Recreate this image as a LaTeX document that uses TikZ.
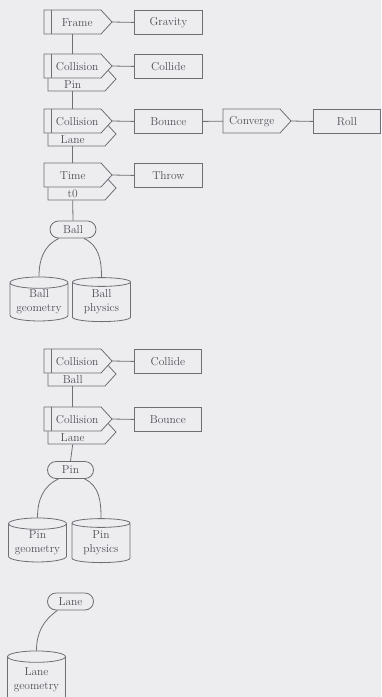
\documentclass[tikz,border=0pt]{standalone}
\usetikzlibrary{shapes.geometric,shapes.misc}
\definecolor{paper}{RGB}{237,237,240}
\definecolor{ink}{RGB}{110,110,116}
\definecolor{txt}{RGB}{78,78,86}
\newcommand\lbl{\fontsize{11.5}{14}\selectfont}
% pointed process outline: left x, top y (y measured downwards)
\newcommand\pent[2]{\draw[shp] (#1,-#2) -- ++(57,0) -- ++(11,-12) -- ++(-11,-12) -- ++(-57,0) -- cycle;}
% second stripe of a double left border
\newcommand\dbl[2]{\draw[line] (#1+7,-#2) -- ++(0,-24);}
\begin{document}
\begin{tikzpicture}[x=1pt,y=1pt,
  line/.style={draw=ink,line width=0.8pt},
  shp/.style={line,fill=paper,line join=miter},
  proc/.style={minimum width=57pt,minimum height=24pt,inner sep=0pt,anchor=north west,text=txt,font=\lbl},
  dbltext/.style={execute at begin node={\hspace*{9pt}}},
  tabtxt/.style={minimum width=57pt,minimum height=13pt,inner sep=0pt,anchor=north west,text=txt,font=\lbl},
  act/.style={draw=ink,line width=0.8pt,fill=paper,minimum width=68pt,minimum height=24pt,inner sep=0pt,anchor=north west,text=txt,font=\lbl},
  obj/.style={rounded rectangle,draw=ink,line width=0.8pt,fill=paper,minimum width=46pt,minimum height=17pt,inner sep=0pt,text=txt,font=\lbl},
  store/.style={cylinder,shape border rotate=90,aspect=0.25,draw=ink,line width=0.8pt,fill=paper,minimum width=58pt,minimum height=44pt,inner sep=0pt,text=txt,font=\lbl,align=center},
  conn/.style={line}
]
\useasboundingbox (0,0) rectangle (381,-697);
\fill[paper] (0,0) rectangle (381,-697);

% ---- Frame
\pent{44}{10} \dbl{44}{10}
\node[proc,dbltext] (frame) at (44,-10) {Frame};
\coordinate (frame-tip) at (112,-22);
\node[act] (gravity) at (134,-10) {Gravity};

% ---- Collision / Pin
\pent{48}{67} \pent{44}{54} \dbl{44}{54}
\node[proc,dbltext] (col1) at (44,-54) {Collision};
\node[tabtxt] (col1-tab) at (44,-78) {Pin};
\coordinate (col1-tip) at (112,-66);
\node[act] (collide1) at (134,-54) {Collide};

% ---- Collision / Lane
\pent{48}{122} \pent{44}{109} \dbl{44}{109}
\node[proc,dbltext] (col2) at (44,-109) {Collision};
\node[tabtxt] (col2-tab) at (44,-133) {Lane};
\coordinate (col2-tip) at (112,-121);
\node[act] (bounce1) at (134,-109) {Bounce};
\pent{223}{109}
\node[proc] (conv) at (223,-109) {Converge};
\coordinate (conv-tip) at (291,-121);
\node[act,minimum width=67pt] (roll) at (313,-109) {Roll};

% ---- Time / t0
\pent{48}{176} \pent{44}{163}
\node[proc] (time) at (44,-163) {Time};
\node[tabtxt] (time-tab) at (44,-187) {t0};
\coordinate (time-tip) at (112,-175);
\node[act] (throw) at (134,-163) {Throw};

% ---- Ball
\node[obj] (ball) at (73,-229.5) {Ball};
\node[store] (ballgeo) at (39,-302) {Ball\\geometry};
\node[store] (ballphy) at (101.5,-302) {Ball\\physics};

% ---- Collision / Ball
\pent{48}{362} \pent{44}{349} \dbl{44}{349}
\node[proc,dbltext] (col3) at (44,-349) {Collision};
\node[tabtxt] (col3-tab) at (44,-373) {Ball};
\coordinate (col3-tip) at (112,-361);
\node[act,minimum width=67pt] (collide2) at (134,-349) {Collide};

% ---- Collision / Lane
\pent{48}{420} \pent{44}{407} \dbl{44}{407}
\node[proc,dbltext] (col4) at (44,-407) {Collision};
\node[tabtxt] (col4-tab) at (44,-431) {Lane};
\coordinate (col4-tip) at (112,-419);
\node[act,minimum width=67pt] (bounce2) at (134,-407) {Bounce};

% ---- Pin
\node[obj] (pin) at (70.5,-470) {Pin};
\node[store] (pingeo) at (37.5,-543) {Pin\\geometry};
\node[store] (pinphy) at (101,-543) {Pin\\physics};

% ---- Lane
\node[obj] (lane) at (70.5,-601.5) {Lane};
\node[store,minimum height=52pt] (lanegeo) at (36.5,-680) {Lane\\geometry};

% ---- connectors
\draw[conn] (frame-tip) -- (gravity.west);
\draw[conn] (frame.south) -- (col1.north);
\draw[conn] (col1-tip) -- (collide1.west);
\draw[conn] (col1-tab.south) -- (col2.north);
\draw[conn] (col2-tip) -- (bounce1.west);
\draw[conn] (bounce1.east) -- (conv.west);
\draw[conn] (conv-tip) -- (roll.west);
\draw[conn] (col2-tab.south) -- (time.north);
\draw[conn] (time-tip) -- (throw.west);
\draw[conn] (time-tab.south) -- (ball.north);
\draw[conn] ([xshift=-14pt]ball.south) to[out=205,in=90] (ballgeo.top);
\draw[conn] ([xshift=11pt]ball.south) to[out=-25,in=90] (ballphy.top);
\draw[conn] (col3-tip) -- (collide2.west);
\draw[conn] (col3-tab.south) -- (col4.north);
\draw[conn] (col4-tip) -- (bounce2.west);
\draw[conn] (col4-tab.south) -- (pin.north);
\draw[conn] ([xshift=-12pt]pin.south) to[out=205,in=90] (pingeo.top);
\draw[conn] ([xshift=14pt]pin.south) to[out=-25,in=90] (pinphy.top);
\draw[conn] ([xshift=-13pt]lane.south) to[out=215,in=90] (lanegeo.top);
\end{tikzpicture}
\end{document}
